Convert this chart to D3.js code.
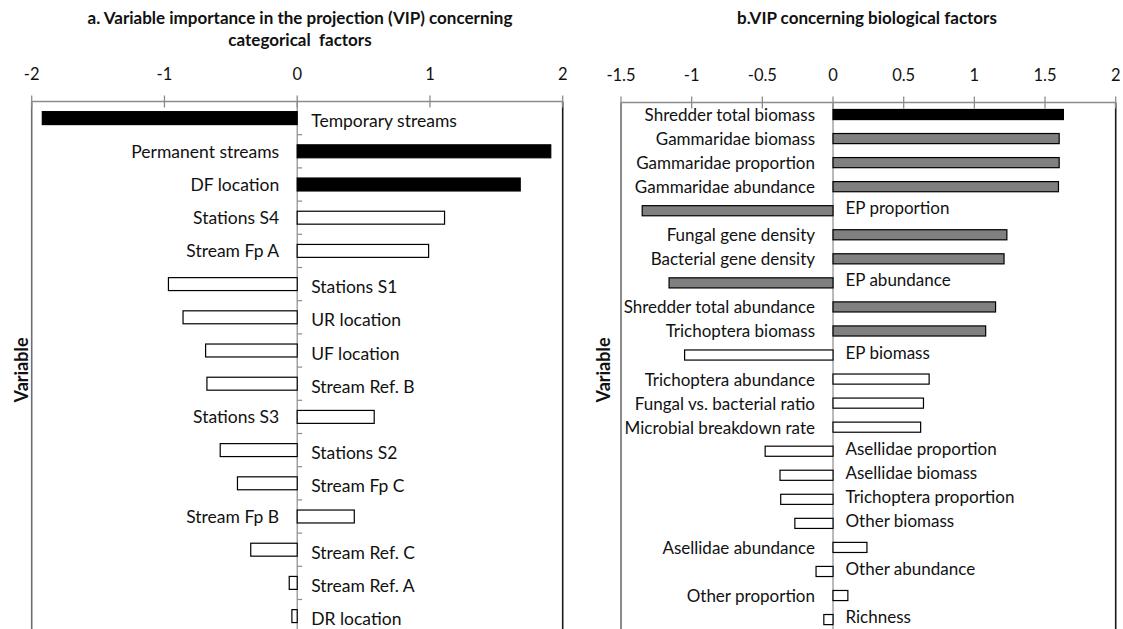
<!DOCTYPE html>
<html>
<head>
<meta charset="utf-8">
<script src="https://cdn.jsdelivr.net/npm/d3@7"></script>
<style>
  html, body { margin: 0; padding: 0; background: #fff; }
  svg { display: block; font-family: Lato, "Open Sans", sans-serif; }
</style>
</head>
<body>
<svg id="chart" width="1123" height="629"></svg>
<script>
// Panel a: categorical factors
const catFactors = [
  "Temporary streams", "Permanent streams", "DF location", "Stations S4",
  "Stream Fp A", "Stations S1", "UR location", "UF location",
  "Stream Ref. B", "Stations S3", "Stations S2", "Stream Fp C",
  "Stream Fp B", "Stream Ref. C", "Stream Ref. A", "DR location"
];
const catVIP = [
  -1.92, 1.91, 1.68, 1.11, 0.99, -0.97, -0.86, -0.69,
  -0.68, 0.58, -0.58, -0.45, 0.43, -0.35, -0.06, -0.04
];
const catGroup = [
  "high", "high", "high", "low", "low", "low", "low", "low",
  "low", "low", "low", "low", "low", "low", "low", "low"
];
const catTicks = [-2, -1, 0, 1, 2];

// Panel b: biological factors
const bioFactors = [
  "Shredder total biomass", "Gammaridae biomass", "Gammaridae proportion",
  "Gammaridae abundance", "EP proportion", "Fungal gene density",
  "Bacterial gene density", "EP abundance", "Shredder total abundance",
  "Trichoptera biomass", "EP biomass", "Trichoptera abundance",
  "Fungal vs. bacterial ratio", "Microbial breakdown rate",
  "Asellidae proportion", "Asellidae biomass", "Trichoptera proportion",
  "Other biomass", "Asellidae abundance", "Other abundance",
  "Other proportion", "Richness"
];
const bioVIP = [
  1.63, 1.60, 1.60, 1.595, -1.35, 1.23, 1.21, -1.16, 1.15, 1.08, -1.05,
  0.68, 0.64, 0.62, -0.48, -0.375, -0.37, -0.27, 0.24, -0.12, 0.105, -0.065
];
const bioGroup = [
  "high", "mid", "mid", "mid", "mid", "mid", "mid", "mid", "mid", "mid",
  "low", "low", "low", "low", "low", "low", "low", "low", "low", "low",
  "low", "low"
];
const bioTicks = [-1.5, -1, -0.5, 0, 0.5, 1, 1.5, 2];

const fillFor = { high: "#000000", mid: "#808080", low: "#ffffff" };

const svg = d3.select("#chart");

function drawPanel(cfg) {
  const g = svg.append("g");
  const x = d3.scaleLinear().domain(cfg.domain).range([cfg.left, cfg.right]);
  const y = d3.scaleBand().domain(cfg.cats).range([cfg.top, cfg.top + cfg.band * cfg.cats.length])
    .paddingInner(cfg.pad).paddingOuter(cfg.pad / 2);
  const bottom = 640;

  // plot frame
  g.append("line").attr("x1", cfg.left).attr("x2", cfg.left)
    .attr("y1", cfg.top).attr("y2", bottom)
    .attr("stroke", "#6e6e6e").attr("stroke-width", 1.6);
  g.append("line").attr("x1", cfg.right).attr("x2", cfg.right)
    .attr("y1", cfg.top).attr("y2", bottom)
    .attr("stroke", "#1a1a1a").attr("stroke-width", 1.6);

  // value axis along the top, ticks crossing the line
  g.append("line").attr("x1", cfg.left).attr("x2", cfg.right)
    .attr("y1", cfg.top).attr("y2", cfg.top)
    .attr("stroke", "#8c8c8c").attr("stroke-width", 1.3);
  g.selectAll("line.vtick").data(cfg.ticks).join("line").attr("class", "vtick")
    .attr("x1", d => x(d)).attr("x2", d => x(d))
    .attr("y1", cfg.top - 6).attr("y2", cfg.top + 6)
    .attr("stroke", "#8c8c8c").attr("stroke-width", 1.3);
  g.selectAll("text.vlab").data(cfg.ticks).join("text").attr("class", "vlab")
    .attr("x", d => x(d)).attr("y", cfg.labelY)
    .attr("text-anchor", "middle").attr("dominant-baseline", "central")
    .attr("font-size", 16.5).attr("fill", "#111")
    .text(d => String(d));

  // zero (category) axis
  g.append("line").attr("x1", x(0)).attr("x2", x(0))
    .attr("y1", cfg.top).attr("y2", bottom)
    .attr("stroke", "#8c8c8c").attr("stroke-width", 1.2);
  if (cfg.catTicks) {
    g.selectAll("line.ctick").data(cfg.cats.slice(1)).join("line").attr("class", "ctick")
      .attr("x1", x(0)).attr("x2", x(0) + 5)
      .attr("y1", d => y(d) - y.step() * y.paddingInner() / 2)
      .attr("y2", d => y(d) - y.step() * y.paddingInner() / 2)
      .attr("stroke", "#8c8c8c").attr("stroke-width", 1.2);
  }

  // bars
  g.selectAll("rect.bar").data(cfg.cats).join("rect").attr("class", "bar")
    .attr("x", (d, i) => x(Math.min(0, cfg.vals[i])))
    .attr("width", (d, i) => Math.abs(x(cfg.vals[i]) - x(0)))
    .attr("y", d => y(d)).attr("height", y.bandwidth())
    .attr("fill", (d, i) => fillFor[cfg.group[i]])
    .attr("stroke", "#000").attr("stroke-width", 1.2);

  // category labels on the side opposite to each bar
  g.selectAll("text.clab").data(cfg.cats).join("text").attr("class", "clab")
    .attr("x", (d, i) => cfg.vals[i] >= 0 ? x(0) - cfg.gapPos : x(0) + cfg.gapNeg)
    .attr("y", (d, i) => y(d) + y.bandwidth() / 2 + (cfg.vals[i] >= 0 ? 0 : cfg.negShift))
    .attr("text-anchor", (d, i) => cfg.vals[i] >= 0 ? "end" : "start")
    .attr("dominant-baseline", "central")
    .attr("font-size", cfg.fontSize).attr("fill", "#111")
    .text(d => d);

  // axis title
  g.append("text")
    .attr("transform", `translate(${cfg.yTitleX},370) rotate(-90)`)
    .attr("text-anchor", "middle").attr("dominant-baseline", "central")
    .attr("font-size", 18).attr("font-weight", "bold").attr("fill", "#111")
    .text("Variable");

  // panel title
  const t = g.append("text").attr("text-anchor", "middle")
    .style("white-space", "pre")
    .attr("font-size", 17).attr("font-weight", "bold").attr("fill", "#111");
  cfg.title.forEach((line, i) => {
    t.append("tspan").attr("x", cfg.titleX).attr("y", 24 + i * 22).text(line);
  });
}

drawPanel({
  cats: catFactors, vals: catVIP, group: catGroup, ticks: catTicks,
  domain: [-2, 2], left: 31.7, right: 562.7, top: 101.5, band: 33.2, pad: 0.61,
  labelY: 74, gapPos: 18, gapNeg: 14, negShift: 2.5, fontSize: 17.5, catTicks: true,
  yTitleX: 21, titleX: 300,
  title: ["a. Variable importance in the projection (VIP) concerning", "categorical  factors"]
});

drawPanel({
  cats: bioFactors, vals: bioVIP, group: bioGroup, ticks: bioTicks,
  domain: [-1.5, 2], left: 621, right: 1115.7, top: 102.5, band: 24.05, pad: 0.58,
  labelY: 75, gapPos: 18, gapNeg: 12.5, negShift: -3, fontSize: 17, catTicks: false,
  yTitleX: 603, titleX: 867,
  title: ["b.VIP concerning biological factors"]
});
</script>
</body>
</html>
